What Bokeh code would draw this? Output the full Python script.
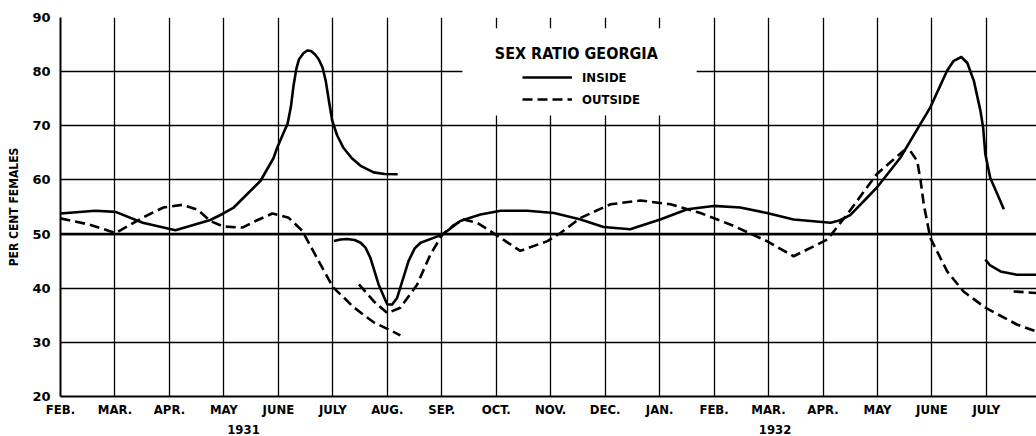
from bokeh.plotting import figure
from bokeh.models import FixedTicker, LinearAxis, Span, BoxAnnotation, Label, Legend, LegendItem
from bokeh.embed import file_html
from bokeh.resources import INLINE

# ---- data (months counted from Feb 1931 = 0) ----
month_labels = ["FEB.", "MAR.", "APR.", "MAY", "JUNE", "JULY", "AUG.", "SEP.", "OCT.",
                "NOV.", "DEC.", "JAN.", "FEB.", "MAR.", "APR.", "MAY", "JUNE", "JULY"]
month_ticks = list(range(18))
year_labels = ["1931", "1932"]
year_ticks = [3.36, 13.12]
y_ticks = [20, 30, 40, 50, 60, 70, 80, 90]

inside_1_x = [0, 0.64, 1.01, 1.51, 2.11, 2.75, 2.99, 3.18, 3.67, 3.91, 3.98, 4.10, 4.17, 4.23,
              4.28, 4.33, 4.38, 4.46, 4.53, 4.60, 4.67, 4.74, 4.81, 4.87, 4.93, 4.99, 5.08,
              5.19, 5.35, 5.51, 5.75, 5.95, 6.19]
inside_1_y = [53.8, 54.3, 54.1, 52.1, 50.7, 52.6, 53.8, 54.9, 59.8, 64.0, 66.0, 68.8, 70.4, 73.5,
              77.5, 80.5, 82.3, 83.4, 83.9, 83.8, 83.2, 82.3, 80.8, 78.3, 74.5, 70.9, 68.2,
              66.0, 64.0, 62.6, 61.4, 61.1, 61.05]

inside_2_x = [5.02, 5.14, 5.26, 5.40, 5.51, 5.60, 5.69, 5.84, 6.00, 6.09, 6.18, 6.39, 6.50, 6.61,
              6.85, 7.01, 7.34, 7.71, 8.08, 8.57, 9.06, 9.55, 9.97, 10.46, 11.01, 11.51, 11.99,
              12.48, 12.97, 13.46, 14.14, 14.30, 14.50, 14.99, 15.42, 15.97, 16.28, 16.40, 16.54,
              16.65, 16.77, 16.89, 16.94, 16.98, 17.07, 17.20, 17.32]
inside_2_y = [48.7, 49.0, 49.1, 48.9, 48.4, 47.5, 45.6, 40.7, 37.0, 37.0, 38.2, 45.0, 47.3, 48.4,
              49.3, 49.9, 52.4, 53.6, 54.3, 54.3, 53.9, 52.7, 51.3, 50.9, 52.7, 54.6, 55.2,
              54.9, 53.9, 52.7, 52.1, 52.5, 53.5, 58.6, 64.1, 73.4, 80.2, 82.0, 82.7,
              81.6, 78.3, 72.8, 69.7, 64.8, 60.4, 57.4, 54.6]

inside_3_x = [16.98, 17.07, 17.26, 17.56, 17.92]
inside_3_y = [45.3, 44.2, 43.1, 42.5, 42.5]

outside_1_x = [0, 0.51, 1.01, 1.56, 1.89, 2.24, 2.52, 2.75, 2.99, 3.34, 3.60, 3.89, 4.19, 4.44,
               4.74, 5.01, 5.23, 5.38, 5.75, 6.00, 6.24]
outside_1_y = [52.9, 51.8, 50.2, 53.3, 54.9, 55.4, 54.5, 52.4, 51.4, 51.2, 52.5, 53.8, 53.0, 50.6,
               45.0, 40.1, 38.0, 36.5, 33.7, 32.5, 31.3]

outside_2_x = [5.48, 5.75, 6.00, 6.24, 6.55, 6.79, 7.01, 7.20, 7.40, 7.65, 7.99, 8.44, 8.94, 9.18,
               9.55, 10.10, 10.65, 11.20, 11.75, 12.36, 12.97, 13.46, 14.08, 14.44, 14.99, 15.48,
               15.60, 15.73, 15.79, 15.85, 15.97, 16.28, 16.58, 16.98, 17.56, 17.92]
outside_2_y = [40.7, 37.6, 35.4, 36.4, 40.7, 46.2, 49.9, 51.5, 52.7, 52.1, 49.9, 46.9, 48.7, 50.2,
               53.0, 55.5, 56.2, 55.5, 53.9, 51.5, 48.7, 45.9, 49.0, 53.6, 61.1, 65.4,
               65.4, 63.5, 60.0, 55.5, 49.3, 43.1, 39.4, 36.4, 33.3, 32.0]

outside_3_x = [17.50, 17.92]
outside_3_y = [39.4, 39.1]

NARROW = "DejaVu Sans Condensed, DejaVu Sans"

p = figure(width=1036, height=436, x_range=(0, 17.92), y_range=(20, 90),
           output_backend="svg", toolbar_location=None,
           min_border_left=60, min_border_right=0, min_border_top=17, min_border_bottom=0)
p.outline_line_color = None
p.background_fill_color = "white"

# grid
p.xgrid.ticker = FixedTicker(ticks=month_ticks)
p.ygrid.ticker = FixedTicker(ticks=y_ticks)
for g in (p.xgrid, p.ygrid):
    g.grid_line_color = "black"
    g.grid_line_width = 1.3
    g.grid_line_alpha = 1.0

# axes
p.xaxis.ticker = FixedTicker(ticks=month_ticks)
p.xaxis.major_label_overrides = {i: lab for i, lab in zip(month_ticks, month_labels)}
p.yaxis.ticker = FixedTicker(ticks=y_ticks)
for ax in (p.xaxis, p.yaxis):
    ax.axis_line_color = "black"
    ax.axis_line_width = 2
    ax.major_tick_line_color = None
    ax.minor_tick_line_color = None
    ax.major_tick_out = 0
    ax.major_tick_in = 0
    ax.minor_tick_out = 0
    ax.minor_tick_in = 0
p.xaxis.major_label_text_font = NARROW
p.xaxis.major_label_text_font_size = "13px"
p.xaxis.major_label_text_font_style = "bold"
p.xaxis.major_label_text_color = "black"
p.xaxis.major_label_standoff = 5
p.yaxis.major_label_text_font = "DejaVu Sans"
p.yaxis.major_label_text_font_size = "13px"
p.yaxis.major_label_text_font_style = "bold"
p.yaxis.major_label_text_color = "black"
p.yaxis.major_label_standoff = 10
p.yaxis.axis_label = "PER CENT FEMALES"
p.yaxis.axis_label_text_font = NARROW
p.yaxis.axis_label_text_font_size = "12px"
p.yaxis.axis_label_text_font_style = "bold"
p.yaxis.axis_label_text_color = "black"
p.yaxis.axis_label_standoff = 8

year_axis = LinearAxis(ticker=FixedTicker(ticks=year_ticks),
                       major_label_overrides={t: l for t, l in zip(year_ticks, year_labels)},
                       axis_line_color=None, major_tick_line_color=None,
                       minor_tick_line_color=None, major_tick_out=0, major_tick_in=0,
                       minor_tick_out=0, minor_tick_in=0, major_label_standoff=5,
                       major_label_text_font=NARROW, major_label_text_font_size="13px",
                       major_label_text_font_style="bold", major_label_text_color="black")
p.add_layout(year_axis, "below")

# heavy 50 % line
p.add_layout(Span(location=50, dimension="width", line_color="black", line_width=2.6))

# curves
LW = 2.6
DASH = "10 5"
r_in1 = p.line(inside_1_x, inside_1_y, line_color="black", line_width=LW, line_join="round")
p.line(inside_2_x, inside_2_y, line_color="black", line_width=LW, line_join="round")
p.line(inside_3_x, inside_3_y, line_color="black", line_width=LW, line_join="round")
r_out1 = p.line(outside_1_x, outside_1_y, line_color="black", line_width=LW, line_dash=DASH)
p.line(outside_2_x, outside_2_y, line_color="black", line_width=LW, line_dash=DASH)
p.line(outside_3_x, outside_3_y, line_color="black", line_width=LW, line_dash=DASH)

# legend panel (white gap in the grid)
p.add_layout(BoxAnnotation(left=7.38, right=11.68, bottom=71.9, top=88.0,
                           fill_color="white", fill_alpha=1.0, line_color=None))
p.add_layout(Label(x=9.47, y=83.3, text="SEX RATIO GEORGIA", text_align="center",
                   text_baseline="middle", text_font=NARROW, text_font_size="16px",
                   text_font_style="bold", text_color="black"))
legend = Legend(items=[LegendItem(label="INSIDE", renderers=[r_in1]),
                       LegendItem(label="OUTSIDE", renderers=[r_out1])],
                location=(462, 287), padding=0, margin=0, spacing=2,
                glyph_width=50, glyph_height=20, label_height=20, label_standoff=10,
                border_line_color=None, background_fill_alpha=0,
                label_text_font=NARROW, label_text_font_size="13px",
                label_text_font_style="bold", label_text_color="black")
p.add_layout(legend)

open("out.html", "w").write(file_html(p, INLINE))
